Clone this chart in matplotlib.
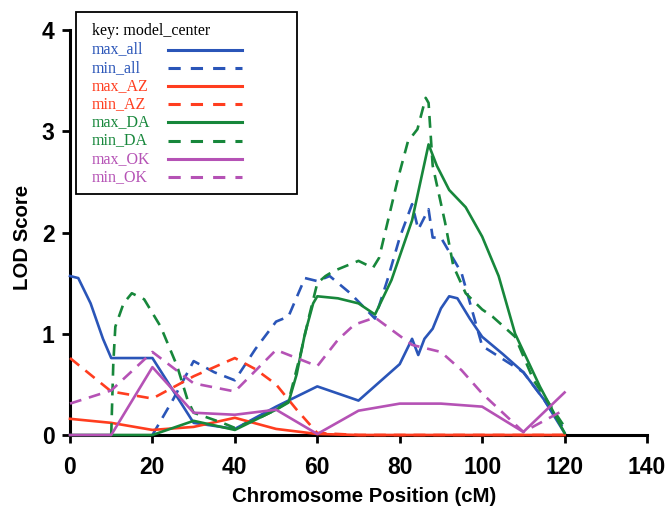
import matplotlib
matplotlib.use("Agg")
import matplotlib.pyplot as plt
from matplotlib.lines import Line2D
from matplotlib.patches import Rectangle

# ---------------- data ----------------
max_all_x = [0, 2, 5, 8, 10, 20, 30, 40, 50, 60, 70, 80, 83, 84.5, 86, 88, 90, 92, 94, 97, 100, 105, 110, 115, 120]
max_all_y = [1.57, 1.55, 1.3, 0.95, 0.76, 0.76, 0.12, 0.06, 0.28, 0.48, 0.34, 0.70, 0.95, 0.79, 0.95, 1.05, 1.25, 1.37, 1.35, 1.15, 0.97, 0.8, 0.62, 0.35, 0.02]

min_all_x = [20, 25, 30, 35, 40, 45, 50, 53, 57, 60, 63, 68, 74, 77, 80, 83, 84.5, 87, 88, 90, 95, 100, 105, 110, 115, 120]
min_all_y = [0, 0.35, 0.73, 0.62, 0.54, 0.85, 1.12, 1.17, 1.55, 1.52, 1.57, 1.40, 1.15, 1.53, 1.95, 2.28, 2.03, 2.23, 1.95, 1.95, 1.6, 0.88, 0.75, 0.62, 0.35, 0.05]

max_AZ_x = [0, 10, 20, 30, 40, 50, 60, 70, 80, 90, 100, 110, 120]
max_AZ_y = [0.16, 0.12, 0.05, 0.08, 0.17, 0.06, 0.01, 0, 0, 0, 0, 0, 0]

min_AZ_x = [0, 10, 20, 30, 40, 45, 50, 55, 60, 70, 80, 90, 100, 110, 120]
min_AZ_y = [0.76, 0.43, 0.36, 0.58, 0.76, 0.65, 0.5, 0.25, 0.02, 0, 0, 0, 0, 0, 0]

max_DA_x = [0, 10, 20, 30, 40, 45, 50, 53, 55, 57, 59, 60, 65, 70, 74, 78, 83, 87, 89, 92, 96, 100, 104, 108, 114, 120]
max_DA_y = [0, 0, 0, 0.14, 0.05, 0.15, 0.25, 0.32, 0.6, 1.0, 1.3, 1.37, 1.35, 1.3, 1.19, 1.53, 2.12, 2.87, 2.66, 2.42, 2.25, 1.96, 1.57, 1.0, 0.48, 0.02]

min_DA_x = [10, 10.5, 11, 13, 15, 18, 22, 26, 28.5, 30, 37, 40, 45, 50, 53, 56, 58, 60, 62, 64, 70, 73.5, 75, 79.5, 82, 84.3, 86.3, 87, 88, 91, 93, 96, 100, 102.5, 108, 112.5, 120]
min_DA_y = [0, 0.7, 1.07, 1.3, 1.4, 1.34, 1.07, 0.68, 0.35, 0.22, 0.12, 0.07, 0.15, 0.25, 0.33, 0.81, 1.17, 1.5, 1.57, 1.62, 1.72, 1.65, 1.75, 2.52, 2.9, 3.02, 3.33, 3.28, 2.66, 2.1, 1.67, 1.4, 1.24, 1.17, 0.97, 0.54, 0.08]

max_OK_x = [0, 10, 20, 30, 40, 50, 60, 70, 80, 90, 100, 110, 120]
max_OK_y = [0, 0, 0.67, 0.22, 0.2, 0.25, 0.01, 0.24, 0.31, 0.31, 0.28, 0.03, 0.42]

min_OK_x = [0, 10, 20, 30, 40, 50, 60, 65, 69, 74, 78, 83, 90, 95, 100, 110, 120]
min_OK_y = [0.31, 0.44, 0.82, 0.51, 0.43, 0.84, 0.68, 0.94, 1.09, 1.16, 1.04, 0.89, 0.82, 0.64, 0.41, 0.03, 0.25]

labels = ["max_all", "min_all", "max_AZ", "min_AZ", "max_DA", "min_DA", "max_OK", "min_OK"]
legend_title = "key: model_center"
x_ticks = [0, 20, 40, 60, 80, 100, 120, 140]
y_ticks = [0, 1, 2, 3, 4]

# ---------------- style ----------------
BLUE = "#2a55b8"
RED = "#ff3d1f"
GREEN = "#17873b"
PURPLE = "#b552b5"
colors = [BLUE, BLUE, RED, RED, GREEN, GREEN, PURPLE, PURPLE]
dashed = [False, True, False, True, False, True, False, True]
series = [(max_all_x, max_all_y), (min_all_x, min_all_y), (max_AZ_x, max_AZ_y), (min_AZ_x, min_AZ_y),
          (max_DA_x, max_DA_y), (min_DA_x, min_DA_y), (max_OK_x, max_OK_y), (min_OK_x, min_OK_y)]
LW = 1.9
DASH = (4.5, 3)

W, H = 665, 508
fig = plt.figure(figsize=(W / 100, H / 100), dpi=100)
ax = fig.add_axes([70 / W, 1 - 435 / H, 577 / W, 405 / H])

for (xs, ys), c, d in zip(series, colors, dashed):
    kw = dict(dashes=DASH) if d else {}
    ax.plot(xs, ys, color=c, lw=LW, clip_on=False, zorder=3,
            solid_joinstyle="round", dash_joinstyle="round", **kw)

ax.set_xlim(0, 140)
ax.set_ylim(0, 4)
ax.set_xticks(x_ticks)
ax.set_yticks(y_ticks)
for s in ["top", "right"]:
    ax.spines[s].set_visible(False)
for s in ["left", "bottom"]:
    ax.spines[s].set_linewidth(2.2)
ax.tick_params(direction="out", length=6, width=2, labelsize=16.5)
ax.tick_params(axis="x", pad=9)
ax.tick_params(axis="y", pad=5)
for t in ax.get_xticklabels() + ax.get_yticklabels():
    t.set_fontweight("bold")
    t.set_family("Liberation Sans")

ax.set_xlabel("Chromosome Position (cM)", fontsize=14.7, fontweight="bold", family="Liberation Sans")
ax.set_ylabel("LOD Score", fontsize=14.7, fontweight="bold", family="Liberation Sans")
ax.xaxis.set_label_coords(0.51, -0.128)
ax.yaxis.set_label_coords(-0.066, 0.489)

# ---------------- legend box (figure pixel layout) ----------------
def fx(px):
    return px / W

def fy(py):
    return 1 - py / H

fig.add_artist(Rectangle((fx(76), fy(194)), fx(297) - fx(76), fy(12) - fy(194),
                         transform=fig.transFigure, facecolor="white", edgecolor="black",
                         linewidth=1.3, zorder=10))
LEG_FONT = dict(family="Liberation Serif", fontsize=11.5)
fig.text(fx(92), fy(31), legend_title, color="black", va="center", ha="left", zorder=11, **LEG_FONT)
row0, step = 49.5, 18.2
for i, (lab, c, d) in enumerate(zip(labels, colors, dashed)):
    yy = fy(row0 + i * step)
    fig.text(fx(92), yy, lab, color=c, va="center", ha="left", zorder=11, **LEG_FONT)
    kw = dict(dashes=(4, 3.3)) if d else {}
    fig.add_artist(Line2D([fx(168), fx(242)], [yy, yy], transform=fig.transFigure,
                          color=c, lw=2.2, zorder=11, **kw))

fig.savefig("out.png", dpi=100)
